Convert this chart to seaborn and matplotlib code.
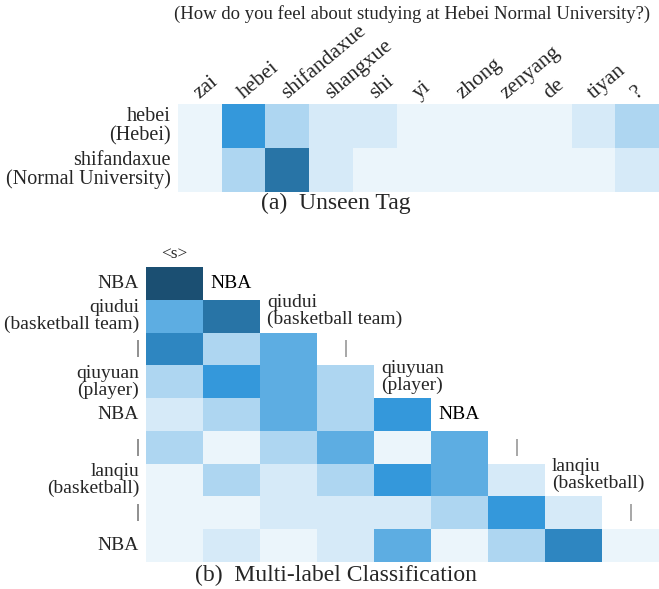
import numpy as np
import pandas as pd
import matplotlib
matplotlib.use("Agg")
import matplotlib.pyplot as plt
import seaborn as sns
from matplotlib.colors import ListedColormap

# ---------------------------------------------------------
# Data
# ---------------------------------------------------------

question = "(How do you feel about studying at Hebei Normal University?)"

top_cols = ["zai", "hebei", "shifandaxue", "shangxue", "shi", "yi",
            "zhong", "zenyang", "de", "tiyan", "?"]
top_rows = ["hebei\n(Hebei)", "shifandaxue\n(Normal University)"]
top_vals = [
    [0, 5, 2, 1, 1, 0, 0, 0, 0, 1, 2],
    [0, 2, 7, 1, 0, 0, 0, 0, 0, 0, 1],
]

seq_tokens = ["<s>", "NBA", "qiudui\n(basketball team)", "|",
              "qiuyuan\n(player)", "NBA", "|", "lanqiu\n(basketball)", "|"]
seq_rows = ["NBA", "qiudui\n(basketball team)", "|", "qiuyuan\n(player)",
            "NBA", "|", "lanqiu\n(basketball)", "|", "NBA"]
seq_vals = [
    [9],
    [4, 7],
    [6, 2, 4],
    [2, 5, 4, 2],
    [1, 2, 4, 2, 5],
    [2, 0, 2, 4, 0, 4],
    [0, 2, 1, 2, 5, 4, 1],
    [0, 0, 1, 1, 1, 2, 5, 1],
    [0, 1, 0, 1, 4, 0, 2, 6, 0],
]

shades = ["#EBF5FB", "#D6EAF8", "#AED6F1", "#85C1E9", "#5DADE2",
          "#3498DB", "#2E86C1", "#2874A6", "#21618C", "#1B4F72"]

# ---------------------------------------------------------
# Figure
# ---------------------------------------------------------

sns.set_style("white")
plt.rcParams["font.family"] = ["Liberation Serif", "DejaVu Serif"]

W, H = 659, 589
fig = plt.figure(figsize=(W / 100, H / 100), dpi=100)

cmap = ListedColormap(shades)


def px_axes(x0, y0, x1, y1):
    return fig.add_axes([x0 / W, 1 - y1 / H, (x1 - x0) / W, (y1 - y0) / H])


# ---------------------------------------------------------
# (a) Unseen Tag
# ---------------------------------------------------------

ax_a = px_axes(178, 104, 659, 192)

df_a = pd.DataFrame(top_vals, index=top_rows, columns=top_cols)

sns.heatmap(
    df_a,
    ax=ax_a,
    cmap=cmap,
    vmin=-0.5,
    vmax=len(shades) - 0.5,
    cbar=False,
    linewidths=0
)

ax_a.set_xticks([])
ax_a.set_yticklabels(top_rows, rotation=0, fontsize=14.5, linespacing=1.0)
ax_a.tick_params(axis="both", length=0, pad=5)
ax_a.set_xlabel("")
ax_a.set_ylabel("")

# column words, rotated, starting at each column centre
for j, word in enumerate(top_cols):
    ax_a.text(j + 0.5, -0.12, word, rotation=40, rotation_mode="anchor",
              ha="left", va="baseline", fontsize=15.5)

# ---------------------------------------------------------
# (b) Multi-label Classification
# ---------------------------------------------------------

ax_b = px_axes(146, 267, 659, 562)

n = len(seq_rows)
grid = np.full((n, n), np.nan)
for i, row in enumerate(seq_vals):
    grid[i, :len(row)] = row

df_b = pd.DataFrame(grid, index=seq_rows, columns=seq_tokens)
mask = np.triu(np.ones((n, n), dtype=bool), k=1)

sns.heatmap(
    df_b,
    ax=ax_b,
    mask=mask,
    cmap=cmap,
    vmin=-0.5,
    vmax=len(shades) - 0.5,
    cbar=False,
    linewidths=0
)

ax_b.set_xticks([])
ax_b.set_yticklabels(seq_rows, rotation=0, fontsize=14, linespacing=1.0)
ax_b.tick_params(axis="both", length=0, pad=5)
ax_b.set_xlabel("")
ax_b.set_ylabel("")

# first token above the matrix
ax_b.text(0.5, -0.4, seq_tokens[0], ha="center", va="center", fontsize=12.5)

# remaining tokens sit on the diagonal, right of each row's last cell
for j in range(1, n):
    label = seq_tokens[j]
    if "\n" in label:
        ax_b.text(j + 0.12, j - 1 + 0.35, label, ha="left", va="center",
                  fontsize=14, linespacing=1.0)
    else:
        ax_b.text(j + 0.5, j - 1 + 0.5, label, ha="center", va="center",
                  fontsize=14, color="#555555" if label == "|" else "black")

# ---------------------------------------------------------
# Captions
# ---------------------------------------------------------

fig.text(412 / W, 1 - 14 / H, question, ha="center", va="center",
         fontsize=13.5)
fig.text(336 / W, 1 - 203 / H, "(a)  Unseen Tag", ha="center",
         va="center", fontsize=17)
fig.text(336 / W, 1 - 575 / H, "(b)  Multi-label Classification",
         ha="center", va="center", fontsize=17)

fig.savefig("out.png", dpi=100)
